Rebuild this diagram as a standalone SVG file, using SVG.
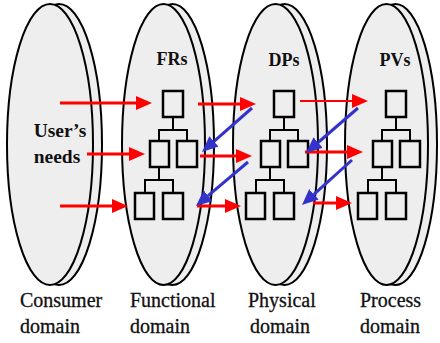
<svg xmlns="http://www.w3.org/2000/svg" xmlns:xlink="http://www.w3.org/1999/xlink" width="440" height="343" viewBox="0 0 440 343">
  <style>
    .disc { fill: #eeeeee; stroke: #000; stroke-width: 2; }
    .box { fill: none; stroke: #000; stroke-width: 2.5; }
    .link { fill: none; stroke: #000; stroke-width: 2; }
    text { font-family: "Liberation Serif", "DejaVu Serif", serif; fill: #111; }
    .title { font-weight: bold; font-size: 18px; text-anchor: middle; }
    .needs { font-size: 19.5px; }
    .caption { font-size: 20px; stroke: #111; stroke-width: 0.3; }
    .red { stroke: #ff0000; stroke-width: 3; fill: none; marker-end: url(#redHead); }
    .red.thin { stroke-width: 2; }
    .blue { stroke: #3333cc; stroke-width: 3; fill: none; marker-end: url(#blueHead); }
  </style>
  <defs>
    <marker id="redHead" viewBox="0 0 16 14" refX="0" refY="7" markerWidth="16" markerHeight="14" markerUnits="userSpaceOnUse" orient="auto">
      <path d="M0,0 L16,7 L0,14 z" fill="#ff0000"/>
    </marker>
    <marker id="blueHead" viewBox="0 0 16 14" refX="0" refY="7" markerWidth="16" markerHeight="14" markerUnits="userSpaceOnUse" orient="auto">
      <path d="M0,0 L16,7 L0,14 z" fill="#3333cc"/>
    </marker>
    <!-- decomposition hierarchy: one parent, two children, two grandchildren -->
    <g id="tree">
      <rect class="box" x="0" y="91" width="20" height="26"/>
      <path class="link" d="M10,117 V130 M-4,141 V130 H24 V141"/>
      <rect class="box" x="-13" y="141" width="19" height="26"/>
      <rect class="box" x="14" y="141" width="20" height="26"/>
      <path class="link" d="M-4,167 V180 M-18,193 V180 H10 V193"/>
      <rect class="box" x="-28" y="193" width="19" height="26"/>
      <rect class="box" x="0" y="193" width="20" height="26"/>
    </g>
  </defs>

  <rect width="440" height="343" fill="#ffffff"/>

  <g id="consumer-domain">
    <ellipse class="disc" cx="59" cy="144.5" rx="43" ry="140.5"/>
    <ellipse class="disc" cx="50" cy="144.5" rx="43" ry="140.5"/>
    <text class="title needs" x="60" y="137">User’s</text>
    <text class="title needs" x="57" y="163">needs</text>
    <text class="caption" x="20" y="307">Consumer</text>
    <text class="caption" x="20" y="333">domain</text>
  </g>

  <g id="functional-domain">
    <ellipse class="disc" cx="172.5" cy="144.5" rx="41.5" ry="140.5"/>
    <ellipse class="disc" cx="163.5" cy="144.5" rx="41.5" ry="140.5"/>
    <text class="title" x="172" y="65">FRs</text>
    <use xlink:href="#tree" x="163"/>
    <text class="caption" x="130" y="307">Functional</text>
    <text class="caption" x="130" y="333">domain</text>
  </g>

  <g id="physical-domain">
    <ellipse class="disc" cx="284.5" cy="144.5" rx="42.5" ry="140.5"/>
    <ellipse class="disc" cx="275.5" cy="144.5" rx="42.5" ry="140.5"/>
    <text class="title" x="284" y="66">DPs</text>
    <use xlink:href="#tree" x="274"/>
    <text class="caption" x="248" y="307">Physical</text>
    <text class="caption" x="250" y="333">domain</text>
  </g>

  <g id="process-domain">
    <ellipse class="disc" cx="395.5" cy="144.5" rx="41.5" ry="140.5"/>
    <ellipse class="disc" cx="386.5" cy="144.5" rx="41.5" ry="140.5"/>
    <text class="title" x="395" y="66">PVs</text>
    <use xlink:href="#tree" x="386"/>
    <text class="caption" x="360" y="307">Process</text>
    <text class="caption" x="360" y="333">domain</text>
  </g>

  <g id="connectors">
    <!-- mapping: consumer needs to functional requirements -->
    <line class="red" x1="60" y1="103" x2="136" y2="103"/>
    <line class="red" x1="87" y1="154" x2="129" y2="154"/>
    <line class="red" x1="60" y1="206" x2="112" y2="206"/>
    <!-- mapping: FRs to DPs -->
    <line class="red" x1="198" y1="104" x2="240" y2="104"/>
    <line class="red" x1="200" y1="156" x2="236" y2="156"/>
    <line class="red" x1="197" y1="206" x2="225" y2="206"/>
    <!-- mapping: DPs to PVs -->
    <line class="red thin" x1="300" y1="101" x2="352" y2="101"/>
    <line class="red" x1="305" y1="152" x2="347" y2="152"/>
    <line class="red" x1="313" y1="203" x2="336" y2="203"/>
    <!-- zigzagging back to the next level -->
    <line class="blue" x1="252" y1="108" x2="214" y2="141.4"/>
    <line class="blue" x1="248" y1="162" x2="208.2" y2="195.7"/>
    <line class="blue" x1="358" y1="108" x2="318.1" y2="142.5"/>
    <line class="blue" x1="352" y1="160" x2="313.9" y2="194.3"/>
  </g>
</svg>
